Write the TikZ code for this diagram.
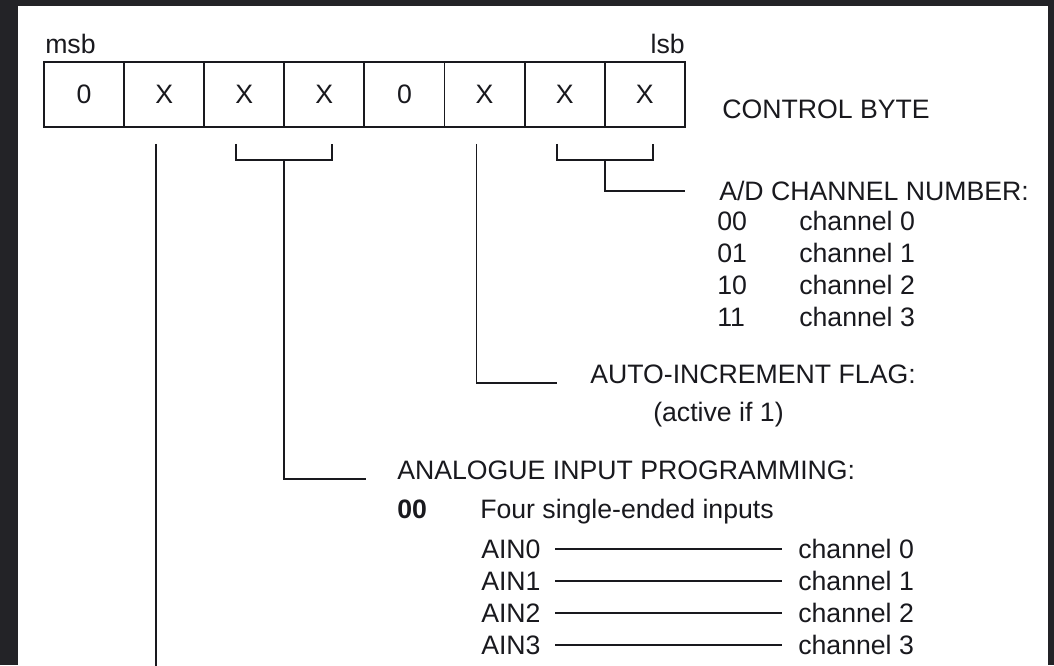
\documentclass[tikz,border=0pt]{standalone}
\usepackage{fontspec}
\setmainfont{Liberation Sans}
\usetikzlibrary{calc}
\definecolor{frame}{RGB}{35,35,39}
\definecolor{ink}{RGB}{25,25,30}
\begin{document}
\begin{tikzpicture}[x=0.75pt,y=-0.75pt,
  lbl/.style={inner sep=0pt,text=ink,font=\fontsize{20}{23}\selectfont,anchor=base west},
  cell/.style={draw=ink,line width=1.4pt,minimum width=60.08pt,minimum height=48.75pt,
    inner sep=0pt,text=ink,font=\fontsize{20}{23}\selectfont},
  wire/.style={draw=ink,line width=1.4pt}]
 \useasboundingbox (0,0) rectangle (1054,665);
 \fill[frame] (0,0) rectangle (1054,665);
 \fill[white] (18,6) rectangle (1048,665);
 \foreach \v/\n [count=\i from 0] in {0/7,X/6,X/5,X/4,0/3,X/2,X/1,X/0}
   \node[cell] (b\n) at ({44+80.1*(\i+0.5)},94.5) {\v};
 \node[lbl] (msb) at (45,53) {msb};
 \node[lbl,anchor=base east] (lsb) at (685,53) {lsb};
 \node[lbl] (ctrl) at (722,118) {CONTROL BYTE};
 \node[lbl] (adnum) at (719,200) {A/D CHANNEL NUMBER:};
 \foreach \c/\yy [count=\k from 0] in {00/230,01/262,10/294,11/326} {
   \node[lbl] (code\k) at (717,\yy) {\c};
   \node[lbl] (adch\k) at (799,\yy) {channel \k};
 }
 \node[lbl] (autoinc) at (590,383) {AUTO-INCREMENT FLAG:};
 \node[lbl] (active) at (653,421) {(active if 1)};
 \node[lbl] (anaprog) at (397,479) {ANALOGUE INPUT PROGRAMMING:};
 \node[lbl,font=\fontsize{20}{23}\selectfont\bfseries] (mode0) at (397,518) {00};
 \node[lbl] (four) at (480,518) {Four single-ended inputs};
 \foreach \yy [count=\k from 0] in {558,590,622,654} {
   \node[lbl] (ain\k) at (481,\yy) {AIN\k};
   \node[lbl] (inch\k) at (798,\yy) {channel \k};
   \draw[wire] ([xshift=11pt]ain\k.east) -- ([xshift=-12pt]ain\k.east -| inch\k.west);
 }
 \draw[wire] ($(b6.south)+(-8,16)$) -- ($(b6.south)+(-8,560)$);
 \draw[wire] ($(b5.south)+(-8,16)$) |- ($(b4.south)+(8,32)$) -- ($(b4.south)+(8,16)$);
 \draw[wire] ($(b5.south)!0.5!(b4.south)+(0,32)$) |- ($(anaprog.base west)+(-31,0)$);
 \draw[wire] ($(b2.south)+(-8,16)$) |- ($(autoinc.base west)+(-33,0)$);
 \draw[wire] ($(b1.south)+(-8,16)$) |- ($(b0.south)+(8,32)$) -- ($(b0.south)+(8,16)$);
 \draw[wire] ($(b1.south)!0.5!(b0.south)+(0,32)$) |- ($(adnum.base west)+(-34,-9)$);
\end{tikzpicture}
\end{document}
